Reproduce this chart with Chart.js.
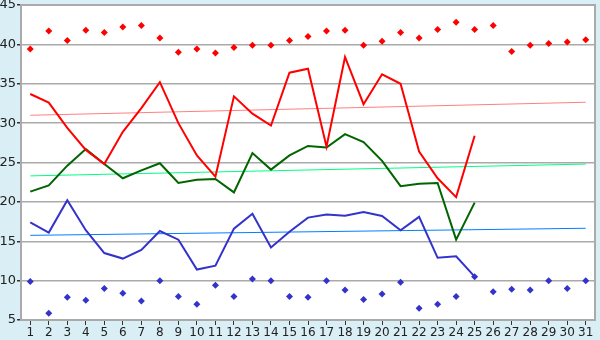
<!DOCTYPE html>
<html>
<head>
<meta charset="utf-8">
<script src="https://cdn.jsdelivr.net/npm/chart.js@4/dist/chart.umd.min.js"></script>
<style>
html,body{margin:0;padding:0;background:#d9eef5;}
#wrap{width:600px;height:340px;position:relative;}
</style>
</head>
<body>
<div id="wrap"><canvas id="c" width="600" height="340"></canvas></div>
<script>
const days = ['1','2','3','4','5','6','7','8','9','10','11','12','13','14','15','16','17','18','19','20','21','22','23','24','25','26','27','28','29','30','31'];
const yTicks = [5,10,15,20,25,30,35,40,45];

const maxTemp = [33.7,32.6,29.4,26.6,24.8,28.9,31.9,35.2,30.0,25.9,23.2,33.4,31.2,29.7,36.4,36.9,27.0,38.4,32.4,36.2,35.0,26.4,23.0,20.6,28.4];
const avgTemp = [21.3,22.1,24.6,26.7,24.8,23.0,24.0,24.9,22.4,22.8,22.9,21.2,26.2,24.1,25.9,27.1,26.9,28.6,27.6,25.2,22.0,22.3,22.4,15.2,19.9];
const minTemp = [17.4,16.1,20.2,16.4,13.5,12.8,13.9,16.3,15.2,11.4,11.9,16.6,18.5,14.2,16.2,18.0,18.4,18.25,18.7,18.2,16.4,18.1,12.9,13.1,10.5];
const recordMax = [39.4,41.7,40.5,41.8,41.5,42.2,42.4,40.8,39.0,39.4,38.9,39.6,39.9,39.9,40.5,41.0,41.7,41.8,39.9,40.4,41.5,40.8,41.9,42.8,41.9,42.4,39.1,39.9,40.1,40.3,40.6];
const recordMin = [9.9,5.85,7.9,7.5,9.0,8.4,7.4,10.0,8.0,7.0,9.4,8.0,10.2,10.0,8.0,7.9,10.0,8.8,7.6,8.3,9.8,6.5,7.0,8.0,10.5,8.6,8.9,8.8,10.0,9.0,10.0];
const trendMax = [31.0, 32.65];
const trendAvg = [23.3, 24.8];
const trendMin = [15.75, 16.65];

function trend(vals){ return [{x: days[0], y: vals[0]}, {x: days[days.length-1], y: vals[1]}]; }

const bgPlugin = {
  id: 'bg',
  beforeDraw(chart){
    const {ctx, chartArea:a} = chart;
    ctx.save();
    ctx.fillStyle = '#d9eef5';
    ctx.fillRect(0,0,chart.width,chart.height);
    ctx.fillStyle = '#ffffff';
    ctx.fillRect(a.left,a.top,a.right-a.left,a.bottom-a.top);
    ctx.restore();
  },
  afterDatasetsDraw(chart){
    const {ctx, chartArea:a} = chart;
    ctx.save();
    ctx.strokeStyle = '#aaaaaa';
    ctx.lineWidth = 2;
    ctx.beginPath();
    ctx.moveTo(a.left, a.top);
    ctx.lineTo(a.right, a.top);
    ctx.lineTo(a.right, a.bottom);
    ctx.stroke();
    ctx.restore();
  }
};

const lineDs = (data, color) => ({
  data, borderColor: color, backgroundColor: color, borderWidth: 2,
  pointRadius: 0, tension: 0, fill: false
});
const markDs = (data, color) => ({
  data, borderColor: color, backgroundColor: color, showLine: false,
  pointStyle: 'rectRot', pointRadius: 3.5, pointBorderWidth: 0
});
const trendDs = (vals, color) => ({
  data: trend(vals), borderColor: color, borderWidth: 1, pointRadius: 0, tension: 0, fill: false
});

new Chart(document.getElementById('c'), {
  type: 'line',
  data: {
    labels: days,
    datasets: [
      lineDs(maxTemp, '#ff0000'),
      lineDs(avgTemp, '#006400'),
      lineDs(minTemp, '#3333cc'),
      markDs(recordMax, '#ff0000'),
      markDs(recordMin, '#3333cc'),
      trendDs(trendMax, '#ff8080'),
      trendDs(trendAvg, '#00ff80'),
      trendDs(trendMin, '#0080ff')
    ]
  },
  options: {
    responsive: false,
    animation: false,
    devicePixelRatio: 1,
    layout: { padding: { top: 5, right: 5, left: 0, bottom: 0 } },
    plugins: { legend: { display: false }, tooltip: { enabled: false } },
    scales: {
      x: {
        offset: true,
        grid: { drawOnChartArea: false, drawTicks: true, tickLength: 5, tickColor: '#333333', offset: false },
        border: { display: true, color: '#aaaaaa', width: 2 },
        ticks: { color: '#222222', font: { family: 'DejaVu Sans', size: 12 }, padding: 1, maxRotation: 0, autoSkip: false },
        afterFit(s){ s.height = 20; s.paddingLeft = 0; s.paddingRight = 0; }
      },
      y: {
        min: 5, max: 45,
        afterBuildTicks(s){ s.ticks = yTicks.map(v => ({value: v})); },
        grid: { color: '#aaaaaa', lineWidth: 1.5, drawTicks: true, tickLength: 4, tickColor: '#333333' },
        border: { display: true, color: '#aaaaaa', width: 2 },
        ticks: { color: '#222222', font: { family: 'DejaVu Sans', size: 13 }, padding: 1 },
        afterFit(s){ s.width = 21; s.paddingTop = 0; s.paddingBottom = 0; }
      }
    }
  },
  plugins: [bgPlugin]
});
</script>
</body>
</html>
